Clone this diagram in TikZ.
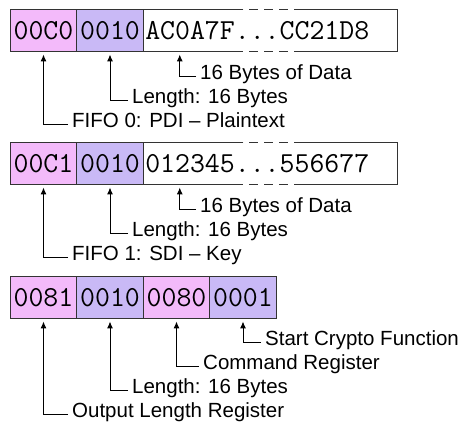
\documentclass[tikz,border=0pt]{standalone}
\usepackage{fontspec}
\setmainfont{Liberation Sans}
\usepackage{tikz}
\usetikzlibrary{arrows.meta,positioning}
\definecolor{regpink}{RGB}{243,186,250}
\definecolor{regviolet}{RGB}{201,185,246}

\newcommand{\gapbox}[1]{%
  \draw[line width=1pt, draw=black!80] ([xshift=100pt]#1.north west) -- (#1.north west) -- (#1.south west) -- ([xshift=100pt]#1.south west)
    ([xshift=160pt]#1.north west) -- (#1.north east) -- (#1.south east) -- ([xshift=160pt]#1.south west);
  \draw[line width=1pt, draw=black!80, dash pattern=on 9pt off 6pt, dash phase=9pt]
    ([xshift=100pt]#1.north west) -- ([xshift=160pt]#1.north west)
    ([xshift=100pt]#1.south west) -- ([xshift=160pt]#1.south west);
}

\begin{document}
\begin{tikzpicture}[x=1pt, y=-1pt,
    cell/.style={draw=black!80, line width=1pt, outer sep=0pt, inner sep=0pt, minimum width=66.5pt, minimum height=42pt, font=\fontsize{29}{29}\ttfamily},
    pinkcell/.style={cell, fill=regpink},
    violetcell/.style={cell, fill=regviolet},
    datacell/.style={cell, draw=none, text width=250pt, inner xsep=2pt, align=left},
    lbl/.style={anchor=west, inner xsep=4pt, inner ysep=2pt, text height=0.75em, text depth=0.2em, font=\fontsize{20.5}{20.5}\selectfont},
    ptr/.style={draw=black, line width=1pt, -{Latex[length=7pt,width=6pt]}, shorten >=2.5pt}
  ]
  \useasboundingbox (0,0) rectangle (467,427);

  \node[pinkcell] (ofs0) at (43.5,31) {00C0};
  \node[violetcell, right=0pt of ofs0] (len0) {0010};
  \node[datacell, right=0pt of len0] (dat0) {AC0A7F...CC21D8};
  \gapbox{dat0}
  \coordinate (p0) at ([xshift=36.5pt]dat0.south west);

  \node[lbl] (txt0) at (196,77) {16 Bytes of Data};
  \node[lbl] (sz0) at (128,101) {Length: 16 Bytes};
  \node[lbl] (fifo0) at (68,125) {FIFO 0: PDI – Plaintext};
  \draw[ptr] (txt0.west) -| (p0);
  \draw[ptr] (sz0.west) -| (len0.south);
  \draw[ptr] (fifo0.west) -| (ofs0.south);

  \node[pinkcell] (ofs1) at (43.5,164) {00C1};
  \node[violetcell, right=0pt of ofs1] (len1) {0010};
  \node[datacell, right=0pt of len1] (dat1) {012345...556677};
  \gapbox{dat1}
  \coordinate (p1) at ([xshift=36.5pt]dat1.south west);

  \node[lbl] (txt1) at (196,210) {16 Bytes of Data};
  \node[lbl] (sz1) at (128,234) {Length: 16 Bytes};
  \node[lbl] (fifo1) at (68,258) {FIFO 1: SDI – Key};
  \draw[ptr] (txt1.west) -| (p1);
  \draw[ptr] (sz1.west) -| (len1.south);
  \draw[ptr] (fifo1.west) -| (ofs1.south);

  \node[pinkcell] (olen) at (43.5,298) {0081};
  \node[violetcell, right=0pt of olen] (len2) {0010};
  \node[pinkcell, right=0pt of len2] (cmd) {0080};
  \node[violetcell, right=0pt of cmd] (start) {0001};

  \node[lbl] (startlbl) at (261,343) {Start Crypto Function};
  \node[lbl] (cmdlbl) at (199,367) {Command Register};
  \node[lbl] (sz2) at (128,391) {Length: 16 Bytes};
  \node[lbl] (olenlbl) at (68,415) {Output Length Register};
  \draw[ptr] (startlbl.west) -| (start.south);
  \draw[ptr] (cmdlbl.west) -| (cmd.south);
  \draw[ptr] (sz2.west) -| (len2.south);
  \draw[ptr] (olenlbl.west) -| (olen.south);
\end{tikzpicture}
\end{document}
